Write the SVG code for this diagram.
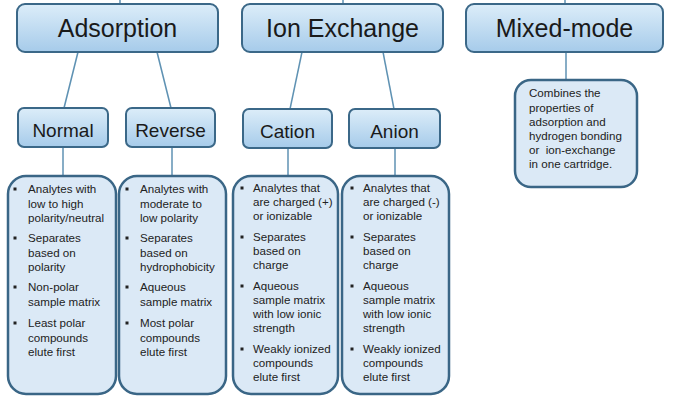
<svg xmlns="http://www.w3.org/2000/svg" width="680" height="396" viewBox="0 0 680 396">
<style>
.hdr{fill:url(#g1);stroke:#3b6888;stroke-width:2}
.sub{fill:url(#g1);stroke:#3b6888;stroke-width:2}
.card{fill:#dbe9f6;stroke:#3a6686;stroke-width:2.5}
.conn{stroke:#5f92b3;stroke-width:1.5;fill:none}
.t1{font-family:"Liberation Sans",Arial,sans-serif;font-size:25px;fill:#1a1a1a;text-anchor:middle}
.t2{font-family:"Liberation Sans",Arial,sans-serif;font-size:19px;fill:#1a1a1a;text-anchor:middle}
.t3{font-family:"Liberation Sans",Arial,sans-serif;font-size:11.6px;fill:#222}
.b{fill:#222}
</style>
<defs>
<linearGradient id="g1" x1="0" y1="0" x2="0" y2="1">
<stop offset="0" stop-color="#dcedf9"/>
<stop offset="1" stop-color="#a6cbea"/>
</linearGradient>
</defs>
<rect width="680" height="396" fill="#ffffff"/>
<g id="connectors">
<line class="conn" x1="120" y1="0" x2="120" y2="4"/>
<line class="conn" x1="343" y1="0" x2="343" y2="4"/>
<line class="conn" x1="565" y1="0" x2="565" y2="4"/>
<line class="conn" x1="78" y1="52" x2="64" y2="108"/>
<line class="conn" x1="157" y1="52" x2="171" y2="108"/>
<line class="conn" x1="302" y1="52" x2="290" y2="109"/>
<line class="conn" x1="383" y1="52" x2="394" y2="109"/>
<line class="conn" x1="566" y1="52" x2="566" y2="80"/>
<line class="conn" x1="63" y1="147" x2="63" y2="176"/>
<line class="conn" x1="172" y1="147" x2="172" y2="176"/>
<line class="conn" x1="288" y1="148" x2="288" y2="176"/>
<line class="conn" x1="395" y1="148" x2="395" y2="176"/>
</g>
<g id="adsorption">
<rect class="hdr" x="17" y="4" width="201" height="48" rx="8"/>
<text class="t1" x="117.5" y="37">Adsorption</text>
</g>
<g id="ion-exchange">
<rect class="hdr" x="242" y="4" width="201" height="48" rx="8"/>
<text class="t1" x="342.5" y="37">Ion Exchange</text>
</g>
<g id="mixed-mode">
<rect class="hdr" x="466" y="4" width="197" height="48" rx="8"/>
<text class="t1" x="564.5" y="37">Mixed-mode</text>
</g>
<g id="normal">
<rect class="sub" x="18" y="108" width="90" height="39" rx="6"/>
<text class="t2" x="63" y="137">Normal</text>
</g>
<g id="reverse">
<rect class="sub" x="126" y="108" width="89" height="39" rx="6"/>
<text class="t2" x="170.5" y="137">Reverse</text>
</g>
<g id="cation">
<rect class="sub" x="243" y="109" width="89" height="39" rx="6"/>
<text class="t2" x="287.5" y="138">Cation</text>
</g>
<g id="anion">
<rect class="sub" x="349" y="109" width="91" height="39" rx="6"/>
<text class="t2" x="394.5" y="138">Anion</text>
</g>
<g id="mixed-desc">
<rect class="card" x="515" y="80" width="122" height="107" rx="16"/>
<text class="t3" xml:space="preserve"><tspan x="529" y="97">Combines the</tspan><tspan x="529" y="111.5">properties of</tspan><tspan x="529" y="126">adsorption and</tspan><tspan x="529" y="140">hydrogen bonding</tspan><tspan x="529" y="154">or  ion-exchange</tspan><tspan x="529" y="168">in one cartridge.</tspan></text>
</g>
<g id="normal-desc">
<rect class="card" x="8" y="176" width="108" height="218" rx="18"/>
<rect class="b" x="13.5" y="187.5" width="3" height="3"/>
<rect class="b" x="13.5" y="236.5" width="3" height="3"/>
<rect class="b" x="13.5" y="285.5" width="3" height="3"/>
<rect class="b" x="13.5" y="321.5" width="3" height="3"/>
<text class="t3"><tspan x="28" y="193">Analytes with</tspan><tspan x="28" y="207.5">low to high</tspan><tspan x="28" y="222">polarity/neutral</tspan><tspan x="28" y="242">Separates</tspan><tspan x="28" y="256.5">based on</tspan><tspan x="28" y="271">polarity</tspan><tspan x="28" y="291">Non-polar</tspan><tspan x="28" y="305.5">sample matrix</tspan><tspan x="28" y="327">Least polar</tspan><tspan x="28" y="341.5">compounds</tspan><tspan x="28" y="356">elute first</tspan></text>
</g>
<g id="reverse-desc">
<rect class="card" x="119" y="176" width="107" height="218" rx="18"/>
<rect class="b" x="125.5" y="187.5" width="3" height="3"/>
<rect class="b" x="125.5" y="236.5" width="3" height="3"/>
<rect class="b" x="125.5" y="285.5" width="3" height="3"/>
<rect class="b" x="125.5" y="321.5" width="3" height="3"/>
<text class="t3"><tspan x="140" y="193">Analytes with</tspan><tspan x="140" y="207.5">moderate to</tspan><tspan x="140" y="222">low polarity</tspan><tspan x="140" y="242">Separates</tspan><tspan x="140" y="256.5">based on</tspan><tspan x="140" y="271">hydrophobicity</tspan><tspan x="140" y="291">Aqueous</tspan><tspan x="140" y="305.5">sample matrix</tspan><tspan x="140" y="327">Most polar</tspan><tspan x="140" y="341.5">compounds</tspan><tspan x="140" y="356">elute first</tspan></text>
</g>
<g id="cation-desc">
<rect class="card" x="233" y="176" width="105" height="218" rx="18"/>
<rect class="b" x="240.5" y="186.5" width="3" height="3"/>
<rect class="b" x="240.5" y="235.5" width="3" height="3"/>
<rect class="b" x="240.5" y="284.5" width="3" height="3"/>
<rect class="b" x="240.5" y="347.5" width="3" height="3"/>
<text class="t3"><tspan x="253" y="192">Analytes that</tspan><tspan x="253" y="206">are charged (+)</tspan><tspan x="253" y="220">or ionizable</tspan><tspan x="253" y="241">Separates</tspan><tspan x="253" y="255">based on</tspan><tspan x="253" y="269">charge</tspan><tspan x="253" y="290">Aqueous</tspan><tspan x="253" y="304">sample matrix</tspan><tspan x="253" y="318">with low ionic</tspan><tspan x="253" y="332">strength</tspan><tspan x="253" y="353">Weakly ionized</tspan><tspan x="253" y="367">compounds</tspan><tspan x="253" y="381">elute first</tspan></text>
</g>
<g id="anion-desc">
<rect class="card" x="342" y="176" width="107" height="218" rx="18"/>
<rect class="b" x="350.5" y="186.5" width="3" height="3"/>
<rect class="b" x="350.5" y="235.5" width="3" height="3"/>
<rect class="b" x="350.5" y="284.5" width="3" height="3"/>
<rect class="b" x="350.5" y="347.5" width="3" height="3"/>
<text class="t3"><tspan x="363" y="192">Analytes that</tspan><tspan x="363" y="206">are charged (-)</tspan><tspan x="363" y="220">or ionizable</tspan><tspan x="363" y="241">Separates</tspan><tspan x="363" y="255">based on</tspan><tspan x="363" y="269">charge</tspan><tspan x="363" y="290">Aqueous</tspan><tspan x="363" y="304">sample matrix</tspan><tspan x="363" y="318">with low ionic</tspan><tspan x="363" y="332">strength</tspan><tspan x="363" y="353">Weakly ionized</tspan><tspan x="363" y="367">compounds</tspan><tspan x="363" y="381">elute first</tspan></text>
</g>
</svg>
